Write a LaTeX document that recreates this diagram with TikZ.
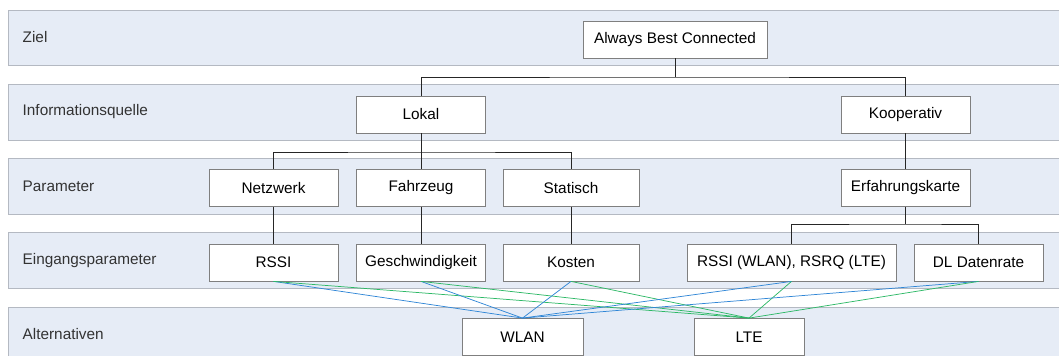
\documentclass[tikz,border=0pt]{standalone}
\usepackage{fontspec}
\setmainfont{Liberation Sans}
\usepackage{tikz}
\usetikzlibrary{positioning}
\definecolor{bandblue}{HTML}{E6ECF6}
\definecolor{bandline}{HTML}{B4B9C2}
\definecolor{boxline}{HTML}{7F7F7F}
\definecolor{wlanblue}{HTML}{2F86D6}
\definecolor{ltegreen}{HTML}{2DB866}

\begin{document}
\begin{tikzpicture}[x=0.75pt, y=-0.75pt,
    band/.style={fill=bandblue, draw=bandline, line width=0.5pt},
    bandlabel/.style={anchor=west, text=black!80, font=\fontsize{11.5}{13}\selectfont},
    box/.style={draw=boxline, fill=white, line width=0.6pt, inner sep=0pt,
        minimum width=96.75pt, minimum height=27.75pt, font=\fontsize{11.5}{13}\selectfont},
    tree/.style={draw=black!85, line width=0.6pt},
    wlanline/.style={draw=wlanblue, line width=0.55pt},
    lteline/.style={draw=ltegreen, line width=0.55pt}]
    \useasboundingbox (0,0) rectangle (1059,356);

    % Ebenen
    \draw[band] (1059,10) -- (8,10) -- (8,65) -- (1059,65);
    \draw[band] (1059,84) -- (8,84) -- (8,140) -- (1059,140);
    \draw[band] (1059,158) -- (8,158) -- (8,214) -- (1059,214);
    \draw[band] (1059,232) -- (8,232) -- (8,288) -- (1059,288);
    \draw[band] (1059,307) -- (8,307) -- (8,357) -- (1059,357);
    \node[bandlabel] (lziel) at (18,37.5) {Ziel};
    \node[bandlabel] (linfo) at (18,111.5) {Informationsquelle};
    \node[bandlabel] (lpar) at (18,186) {Parameter};
    \node[bandlabel] (lein) at (18,260.5) {Eingangsparameter};
    \node[bandlabel] (lalt) at (18,334.5) {Alternativen};

    % Ziel
    \node[box, minimum width=138pt] (abc) at (675,39.5) {Always Best Connected};

    % Informationsquelle
    \node[box] (lokal) at (421,114.5) {Lokal};
    \node[box] (koop) at (905.5,114.5) {Kooperativ};

    % Parameter
    \node[box] (netz) at (273.5,188) {Netzwerk};
    \node[box] (fahr) at (421,188) {Fahrzeug};
    \node[box, minimum width=102pt] (stat) at (571,188) {Statisch};
    \node[box] (erf) at (905.5,188) {Erfahrungskarte};

    % Eingangsparameter
    \node[box] (rssi) at (273.5,262.5) {RSSI};
    \node[box] (gesch) at (421,262.5) {Geschwindigkeit};
    \node[box, minimum width=102pt] (kosten) at (571,262.5) {Kosten};
    \node[box, minimum width=156.75pt] (rsrq) at (791.5,262.5) {RSSI (WLAN), RSRQ (LTE)};
    \node[box] (dl) at (978.5,262.5) {DL Datenrate};

    % Alternativen
    \node[box, minimum width=90.75pt] (wlan) at (522.5,337) {WLAN};
    \node[box, minimum width=82.5pt] (lte) at (749,337) {LTE};

    % Baum
    \coordinate (j1) at (675,77);
    \coordinate (j2) at (421,152);
    \coordinate (j3) at (905.5,224);
    \draw[tree] (abc.south) -- (j1);
    \draw[tree] (lokal.north) |- (j1) -| (koop.north);
    \draw[tree] (lokal.south) -- (fahr.north);
    \draw[tree] (netz.north) |- (j2) -| (stat.north);
    \draw[tree] (koop.south) -- (erf.north);
    \draw[tree] (erf.south) -- (j3);
    \draw[tree] (rsrq.north) |- (j3) -| (dl.north);
    \draw[tree] (netz.south) -- (rssi.north);
    \draw[tree] (fahr.south) -- (gesch.north);
    \draw[tree] (stat.south) -- (kosten.north);

    % Bewertung der Alternativen
    \foreach \p in {rssi,gesch,kosten,rsrq,dl} {
        \draw[wlanline] (\p.south) -- (wlan.north);
        \draw[lteline] (\p.south) -- (lte.north);
    }
\end{tikzpicture}
\end{document}
